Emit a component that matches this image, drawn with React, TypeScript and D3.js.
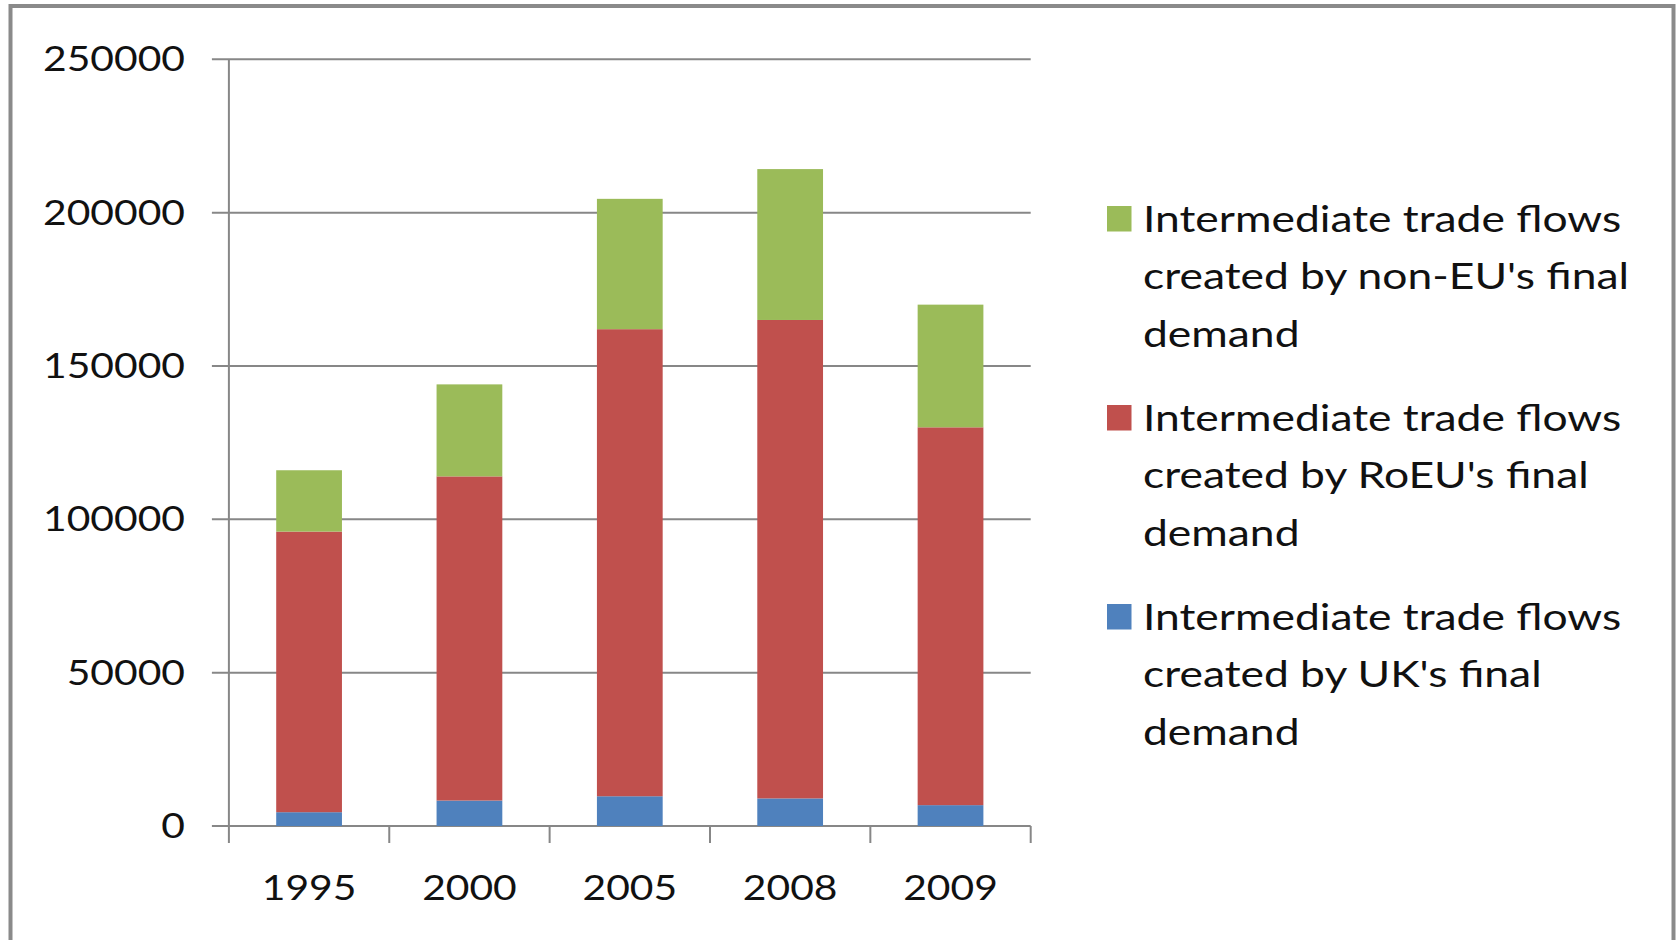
import React from "react";
import * as d3 from "d3";

const categories = ["1995", "2000", "2005", "2008", "2009"];
const ukValues = [4500, 8300, 9700, 9000, 6800];
const roeuValues = [91500, 105700, 152300, 156000, 123200];
const nonEuValues = [20000, 30000, 42500, 49200, 40000];
const yTicks = [0, 50000, 100000, 150000, 200000, 250000];
const seriesKeys = ["uk", "roeu", "noneu"];
const seriesColors: Record<string, string> = { uk: "#4F81BD", roeu: "#C0504D", noneu: "#9BBB59" };
const legendItems = [
  { key: "noneu", lines: ["Intermediate trade flows", "created by non-EU's final", "demand"] },
  { key: "roeu", lines: ["Intermediate trade flows", "created by RoEU's final", "demand"] },
  { key: "uk", lines: ["Intermediate trade flows", "created by UK's final", "demand"] },
];

const W = 1677;
const H = 940;
const plotLeft = 228.9;
const plotRight = 1030.7;
const plotTop = 59.3;
const plotBottom = 826;
const FONT = "Lato, 'Open Sans', sans-serif";
const AXIS_FS = 34;
const LEG_FS = 37;
const SX = 1.2;
const GRID = "#878787";

export default function App() {
  const rows = categories.map((c, i) => ({ cat: c, uk: ukValues[i], roeu: roeuValues[i], noneu: nonEuValues[i] }));
  const stacked = d3.stack<any>().keys(seriesKeys)(rows);

  const x = d3.scaleBand<string>().domain(categories).range([plotLeft, plotRight]).paddingInner(0.59).paddingOuter(0.295);
  const y = d3.scaleLinear().domain([0, 250000]).range([plotBottom, plotTop]);
  const step = x.step();
  const boundaries = d3.range(categories.length + 1).map((i) => plotLeft + i * step);

  const legX = 1107;
  const legTextX = 1143;
  const legFirstBase = 231.5;
  const lineGap = 57.8;
  const groupGap = 199;

  return (
    <svg width={W} height={H} style={{ position: "absolute", left: 0, top: 0, background: "#fff" }} fontFamily={FONT}>
      <rect x={0} y={0} width={W} height={H} fill="#fff" />
      <rect x={10.5} y={6} width={1663} height={1100} fill="none" stroke="#8a8a8a" strokeWidth={4} />
      {yTicks.map((t) => (
        <line key={"g" + t} x1={plotLeft - 17} x2={plotRight} y1={y(t)} y2={y(t)} stroke={GRID} strokeWidth={2} />
      ))}
      <line x1={plotLeft} x2={plotLeft} y1={plotTop} y2={plotBottom + 17} stroke={GRID} strokeWidth={2} />
      {boundaries.slice(1).map((b, i) => (
        <line key={"xt" + i} x1={b} x2={b} y1={plotBottom} y2={plotBottom + 17} stroke={GRID} strokeWidth={2} />
      ))}
      {stacked.map((s) => (
        <g key={s.key} fill={seriesColors[s.key]}>
          {s.map((d, i) => (
            <rect key={i} x={x(categories[i])!} width={x.bandwidth()} y={y(d[1])} height={y(d[0]) - y(d[1])} />
          ))}
        </g>
      ))}
      {yTicks.map((t) => (
        <text key={"yl" + t} transform={`translate(185, ${y(t) + 12}) scale(${SX},1)`} textAnchor="end" fontSize={AXIS_FS} fill="#111">
          {String(t)}
        </text>
      ))}
      {categories.map((c) => (
        <text key={"xl" + c} transform={`translate(${x(c)! + x.bandwidth() / 2}, 900) scale(${SX},1)`} textAnchor="middle" fontSize={AXIS_FS} fill="#111">
          {c}
        </text>
      ))}
      {legendItems.map((it, gi) => {
        const base = legFirstBase + gi * groupGap;
        return (
          <g key={it.key}>
            <rect x={legX} y={base - 25.5} width={24.5} height={25.5} fill={seriesColors[it.key]} />
            {it.lines.map((ln, li) => (
              <text key={li} transform={`translate(${legTextX}, ${base + li * lineGap}) scale(${SX},1)`} fontSize={LEG_FS} fill="#111">
                {ln}
              </text>
            ))}
          </g>
        );
      })}
    </svg>
  );
}
